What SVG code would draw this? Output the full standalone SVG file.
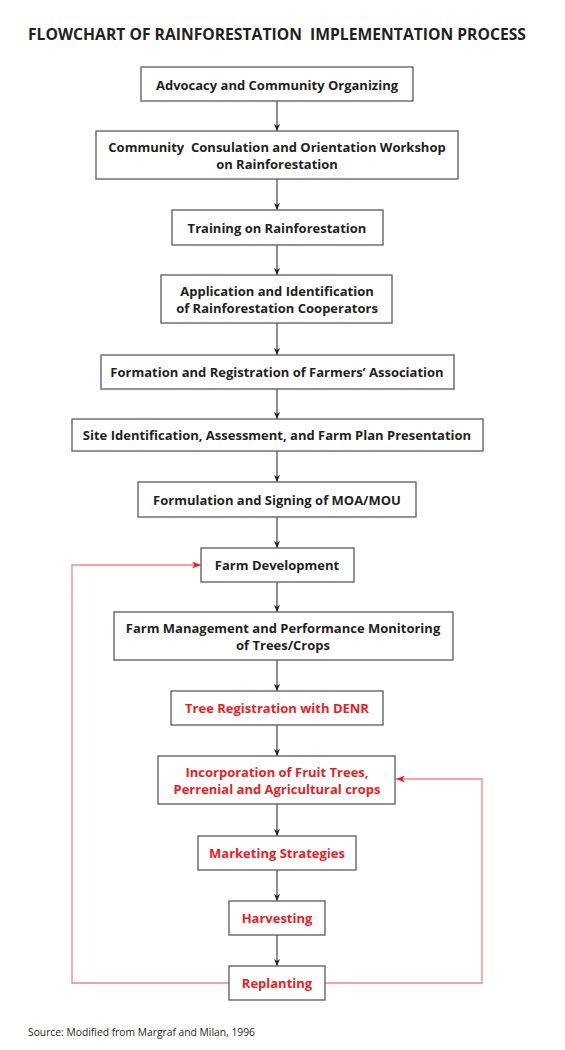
<svg xmlns="http://www.w3.org/2000/svg" width="565" height="1050" viewBox="0 0 565 1050">
<style>
text{white-space:pre}
.box{fill:#fff;stroke:#58595b;stroke-width:1.3}
.t{font-family:"Open Sans","Liberation Sans",sans-serif;font-weight:bold;font-size:13px;text-anchor:middle;fill:#231f20}
.r{fill:#ed1c24}
.ttl{font-family:"Open Sans","Liberation Sans",sans-serif;font-weight:bold;font-size:15.5px;fill:#231f20}
.src{font-family:"Open Sans","Liberation Sans",sans-serif;font-size:10.3px;fill:#231f20}
.c{fill:none;stroke:#231f20;stroke-width:1}
.rc{fill:none;stroke:#f0868a;stroke-width:1.3}
</style>
<defs>
<marker id="a" markerWidth="8" markerHeight="8" refX="7" refY="4" orient="auto" markerUnits="userSpaceOnUse"><path d="M0,1 L7,4 L0,7 L2,4 Z" fill="#231f20"/></marker>
<marker id="ar" markerWidth="10" markerHeight="8" refX="9" refY="4" orient="auto" markerUnits="userSpaceOnUse"><path d="M0,0.5 L9,4 L0,7.5 L2.5,4 Z" fill="#ed1c24"/></marker>
</defs>
<rect width="565" height="1050" fill="#fff"/>
<text class="ttl" x="28" y="40" textLength="498" lengthAdjust="spacingAndGlyphs">FLOWCHART OF RAINFORESTATION  IMPLEMENTATION PROCESS</text>

<g id="connectors">
<line class="c" x1="277" y1="101" x2="277" y2="131" marker-end="url(#a)"/>
<line class="c" x1="277" y1="179" x2="277" y2="210" marker-end="url(#a)"/>
<line class="c" x1="277" y1="245" x2="277" y2="275" marker-end="url(#a)"/>
<line class="c" x1="277" y1="323" x2="277" y2="355" marker-end="url(#a)"/>
<line class="c" x1="277" y1="389" x2="277" y2="419" marker-end="url(#a)"/>
<line class="c" x1="277" y1="451" x2="277" y2="482" marker-end="url(#a)"/>
<line class="c" x1="277" y1="517" x2="277" y2="548" marker-end="url(#a)"/>
<line class="c" x1="277" y1="582" x2="277" y2="612" marker-end="url(#a)"/>
<line class="c" x1="277" y1="660" x2="277" y2="691" marker-end="url(#a)"/>
<line class="c" x1="277" y1="725" x2="277" y2="756" marker-end="url(#a)"/>
<line class="c" x1="277" y1="804" x2="277" y2="836" marker-end="url(#a)"/>
<line class="c" x1="277" y1="870" x2="277" y2="901" marker-end="url(#a)"/>
<line class="c" x1="277" y1="935" x2="277" y2="966" marker-end="url(#a)"/>
<polyline class="rc" points="229,983 72,983 72,565 201,565" marker-end="url(#ar)"/>
<polyline class="rc" points="325,983 482,983 482,779 396,779" marker-end="url(#ar)"/>
</g>

<g id="n1"><rect class="box" x="141" y="67" width="272" height="34"/><text class="t" x="277" y="89.5">Advocacy and Community Organizing</text></g>
<g id="n2"><rect class="box" x="96" y="131" width="362" height="48"/><text class="t" x="277" y="151.5">Community  Consulation and Orientation Workshop</text><text class="t" x="277" y="168.5">on Rainforestation</text></g>
<g id="n3"><rect class="box" x="172" y="210" width="211" height="35"/><text class="t" x="277" y="232.5">Training on Rainforestation</text></g>
<g id="n4"><rect class="box" x="161" y="275" width="231" height="48"/><text class="t" x="277" y="295.5">Application and Identification</text><text class="t" x="277" y="312.5">of Rainforestation Cooperators</text></g>
<g id="n5"><rect class="box" x="101" y="355" width="353" height="34"/><text class="t" x="277" y="376.5">Formation and Registration of Farmers’ Association</text></g>
<g id="n6"><rect class="box" x="72" y="419" width="411" height="32"/><text class="t" x="277" y="440">Site Identification, Assessment, and Farm Plan Presentation</text></g>
<g id="n7"><rect class="box" x="138" y="482" width="278" height="35"/><text class="t" x="277" y="504.5">Formulation and Signing of MOA/MOU</text></g>
<g id="n8"><rect class="box" x="201" y="548" width="153" height="34"/><text class="t" x="277" y="569.5">Farm Development</text></g>
<g id="n9"><rect class="box" x="114" y="612" width="339" height="48"/><text class="t" x="283" y="632.5">Farm Management and Performance Monitoring</text><text class="t" x="283" y="649.5">of Trees/Crops</text></g>
<g id="n10"><rect class="box" x="171" y="691" width="212" height="34"/><text class="t r" x="277" y="712.5">Tree Registration with DENR</text></g>
<g id="n11"><rect class="box" x="158" y="756" width="237" height="48"/><text class="t r" x="277" y="776.5">Incorporation of Fruit Trees,</text><text class="t r" x="277" y="793.5">Perrenial and Agricultural crops</text></g>
<g id="n12"><rect class="box" x="198" y="836" width="158" height="34"/><text class="t r" x="277" y="857.5">Marketing Strategies</text></g>
<g id="n13"><rect class="box" x="229" y="901" width="96" height="34"/><text class="t r" x="277" y="922.5">Harvesting</text></g>
<g id="n14"><rect class="box" x="229" y="966" width="96" height="34"/><text class="t r" x="277" y="987.5">Replanting</text></g>

<text class="src" x="28" y="1036">Source: Modified from Margraf and Milan, 1996</text>
</svg>
